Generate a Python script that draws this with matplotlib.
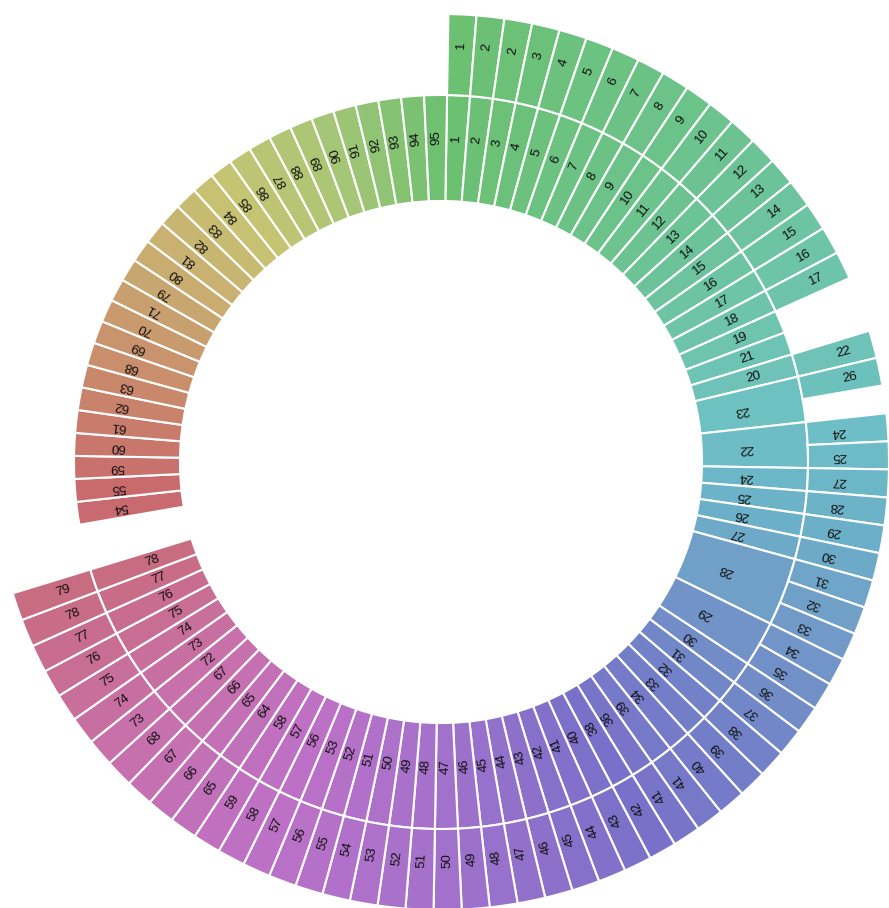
import numpy as np
import matplotlib
matplotlib.use('Agg')
import matplotlib.pyplot as plt
from matplotlib.colors import to_rgb

# ---------------- data ----------------
inner_labels = ['1', '2', '3', '4', '5', '6', '7', '8', '9', '10', '11', '12', '13', '14', '15', '16', '17', '18', '19',
                '21', '20', '23', '22', '24', '25', '26', '27', '28', '29', '30', '31', '32', '33', '34', '39', '36', '38',
                '40', '41', '42', '43', '44', '45', '46', '47', '48', '49', '50', '51', '52', '53',
                '56', '57', '58', '64', '65', '66', '67', '72', '73', '74', '75', '76', '77', '78',
                None,
                '54', '55', '59', '60', '61', '62', '63', '68', '69', '70', '71',
                '79', '80', '81', '82', '83', '84', '85', '86', '87', '88', '89', '90', '91', '92', '93', '94', '95']
inner_sizes = [1] * 21 + [2, 2] + [1] * 4 + [3, 2] + [1] * 36 + [2] + [1] * 28

outer_labels = ['1', '2', '2', '3', '4', '5', '6', '7', '8', '9', '10', '11', '12', '13', '14', '15', '16', '17',
                None, '22', '26', None,
                '24', '25', '27', '28', '29', '30', '31', '32', '33', '34', '35', '36', '37', '38', '39', '40', '41',
                '41', '42', '43', '44', '45', '46', '47', '48', '49', '50', '51', '52', '53', '54', '55', '56', '57',
                '58', '59', '65', '66', '67', '68', '73', '74', '75', '76', '77', '78', '79',
                None]
outer_sizes = [1] * 18 + [2, 1, 1, 1] + [1] * 47 + [30]

# ---------------- style ----------------
W, H = 889, 908
CX, CY = 441, 462            # centre in image pixels
RAX = 452                    # axes radius in pixels
R0, R1, R2 = 261, 367, 448   # ring radii (pixels)
UNIT = 3.6                   # degrees per unit
OFFSET = 0.95                # start angle (deg, clockwise from north)

color_stops = [(0, '#6cc070'), (40, '#6cc38e'), (70, '#6ec4b2'), (85, '#6dbfc6'),
               (100, '#6cafc8'), (115, '#7199c8'), (135, '#737fc8'), (152, '#7a70c9'),
               (180, '#a371cc'), (205, '#bd70c6'), (230, '#c870a8'), (250, '#c86c84'),
               (265, '#c96a6c'), (285, '#c98a6c'), (305, '#c8ac70'), (322, '#c6c473'),
               (342, '#a4c676'), (360, '#6cc070')]
stop_ang = np.array([a for a, _ in color_stops])
stop_rgb = np.array([to_rgb(c) for _, c in color_stops])


def angle_color(theta):
    t = theta % 360
    return tuple(np.interp(t, stop_ang, stop_rgb[:, k]) for k in range(3))


fig = plt.figure(figsize=(W / 100, H / 100), dpi=100)
fig.patch.set_facecolor('white')
ax = fig.add_axes([(CX - RAX) / W, 1 - (CY + RAX) / H, 2 * RAX / W, 2 * RAX / H], projection='polar')
ax.set_theta_zero_location('N')
ax.set_theta_direction(-1)
ax.set_ylim(0, RAX)
ax.axis('off')


def draw_ring(labels, sizes, r_in, r_out):
    mid = (r_in + r_out) / 2
    cum = 0
    for lab, s in zip(labels, sizes):
        a0 = OFFSET + cum * UNIT
        cum += s
        if lab is None:
            continue
        w = s * UNIT
        c = a0 + w / 2
        ax.bar(np.deg2rad(c), r_out - r_in, width=np.deg2rad(w), bottom=r_in,
               color=angle_color(c), edgecolor='white', linewidth=1.5, align='center')
        inward = 79.5 <= c < 259.5
        if inward:
            rot = 270 - c
            rr = mid - 9
        else:
            rot = 90 - c
            rr = mid + 10
        rot = (rot + 180) % 360 - 180
        ax.text(np.deg2rad(c), rr, lab, rotation=rot, rotation_mode='anchor',
                ha='center', va='center', fontsize=9.6, color='#111111',
                family=['Liberation Sans', 'DejaVu Sans'])


draw_ring(inner_labels, inner_sizes, R0, R1)
draw_ring(outer_labels, outer_sizes, R1, R2)

fig.savefig('out.png', dpi=100, facecolor='white')
